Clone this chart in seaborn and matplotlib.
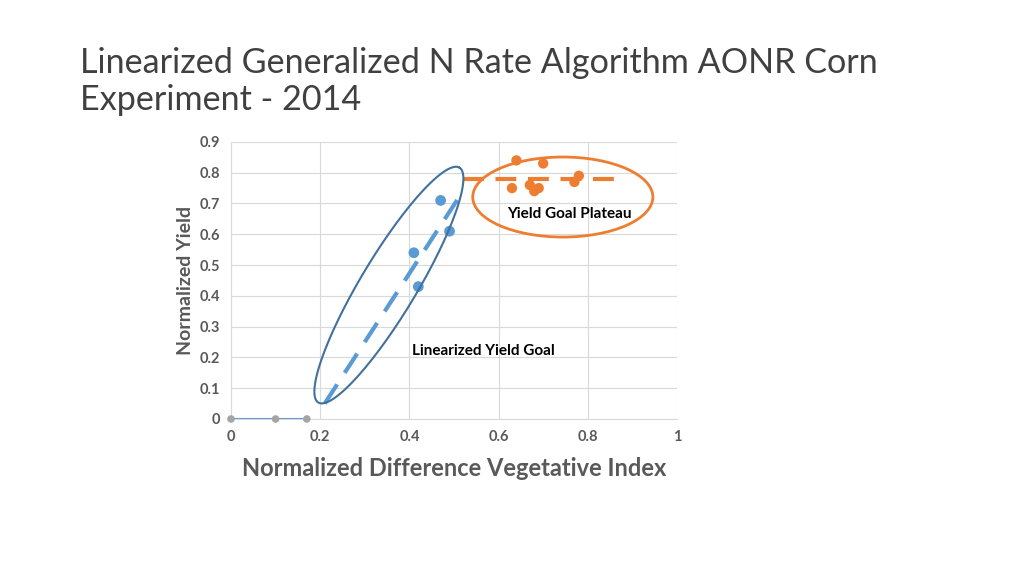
import numpy as np
import pandas as pd
import matplotlib
matplotlib.use("Agg")
import matplotlib.pyplot as plt
import seaborn as sns
from matplotlib.patches import Ellipse

# dados
ndvi_zero = [0.0, 0.10, 0.17]
yield_zero = [0.0, 0.0, 0.0]

ndvi_linear = [0.41, 0.42, 0.47, 0.49]
yield_linear = [0.54, 0.43, 0.71, 0.61]

ndvi_plateau = [0.64, 0.70, 0.63, 0.67, 0.68, 0.69, 0.77, 0.78]
yield_plateau = [0.84, 0.83, 0.75, 0.76, 0.74, 0.75, 0.77, 0.79]

linear_fit_x = [0.21, 0.52]
linear_fit_y = [0.05, 0.74]
plateau_fit_x = [0.52, 0.88]
plateau_fit_y = [0.78, 0.78]

x_ticks = [0, 0.2, 0.4, 0.6, 0.8, 1]
x_tick_labels = ["0", "0.2", "0.4", "0.6", "0.8", "1"]
y_ticks = [0, 0.1, 0.2, 0.3, 0.4, 0.5, 0.6, 0.7, 0.8, 0.9]
y_tick_labels = ["0", "0.1", "0.2", "0.3", "0.4", "0.5", "0.6", "0.7", "0.8", "0.9"]

AZUL = "#5B9BD5"
LARANJA = "#ED7D31"
CINZA = "#A5A5A5"
AZUL_ESCURO = "#41719C"
TEXTO = "#595959"

sns.set_theme(style="white")
plt.rcParams['font.family'] = ['Lato', 'DejaVu Sans']

fig = plt.figure(figsize=(10.24, 5.76), dpi=100)
ax = fig.add_axes([0.2256, 0.2726, 0.4355, 0.481])

df_zero = pd.DataFrame({"x": ndvi_zero, "y": yield_zero})
df_lin = pd.DataFrame({"x": ndvi_linear, "y": yield_linear})
df_plat = pd.DataFrame({"x": ndvi_plateau, "y": yield_plateau})

# linha zero e pontos cinza
sns.lineplot(data=df_zero, x="x", y="y", ax=ax, color=AZUL, linewidth=1.5, zorder=2)
sns.scatterplot(data=df_zero, x="x", y="y", ax=ax, color=CINZA, s=30, edgecolor="none",
                zorder=3, clip_on=False)

# retas ajustadas
ax.plot(linear_fit_x, linear_fit_y, color=AZUL, linewidth=3, dashes=(5.5, 3.3), zorder=2)
ax.plot(plateau_fit_x, plateau_fit_y, color=LARANJA, linewidth=3, dashes=(5, 2.8), zorder=2)

sns.scatterplot(data=df_lin, x="x", y="y", ax=ax, color=AZUL, s=60, edgecolor="none", zorder=4)
sns.scatterplot(data=df_plat, x="x", y="y", ax=ax, color=LARANJA, s=55, edgecolor="none", zorder=4)

ax.set_xlim(0, 1)
ax.set_ylim(0, 0.9)
ax.set_xticks(x_ticks)
ax.set_xticklabels(x_tick_labels)
ax.set_yticks(y_ticks)
ax.set_yticklabels(y_tick_labels)
ax.grid(True, color="#D9D9D9", linewidth=0.8)
ax.set_axisbelow(True)
for s in ["top", "right"]:
    ax.spines[s].set_visible(False)
for s in ["left", "bottom"]:
    ax.spines[s].set_color("#D9D9D9")
    ax.spines[s].set_linewidth(0.8)
ax.tick_params(axis="both", length=0, pad=8, labelsize=10.5, labelcolor=TEXTO)
for lbl in ax.get_xticklabels() + ax.get_yticklabels():
    lbl.set_fontweight("bold")

ax.set_xlabel("Normalized Difference Vegetative Index", fontsize=17, fontweight="bold", color=TEXTO, labelpad=9)
ax.set_ylabel("Normalized Yield", fontsize=14, fontweight="bold", color=TEXTO, labelpad=4)

# elipse azul inclinada (calculada em pixels, convertida para dados)
px_x = 446.0   # pixels por unidade x
px_y = 307.8   # pixels por unidade y
t = np.linspace(0, 2 * np.pi, 200)
ang = np.deg2rad(59)
a, b = 137, 28
u = a * np.cos(t)
v = b * np.sin(t)
ex = 0.354 + (u * np.cos(ang) - v * np.sin(ang)) / px_x
ey = 0.435 + (u * np.sin(ang) + v * np.cos(ang)) / px_y
ax.plot(ex, ey, color=AZUL_ESCURO, linewidth=1.5, zorder=5, clip_on=False)

ax.add_patch(Ellipse((0.744, 0.721), 0.404, 0.26, fill=False, edgecolor=LARANJA,
                     linewidth=2, zorder=5, clip_on=False))

ax.text(0.405, 0.22, "Linearized Yield Goal", fontsize=11, fontweight="bold", color="black", va="center")
ax.text(0.62, 0.665, "Yield Goal Plateau", fontsize=11, fontweight="bold", color="black", va="center")

fig.text(0.078, 0.918, "Linearized Generalized N Rate Algorithm AONR Corn\nExperiment - 2014",
         fontsize=24.6, color="#404040", va="top", ha="left", linespacing=1.2)

fig.savefig("out.png", dpi=100)
